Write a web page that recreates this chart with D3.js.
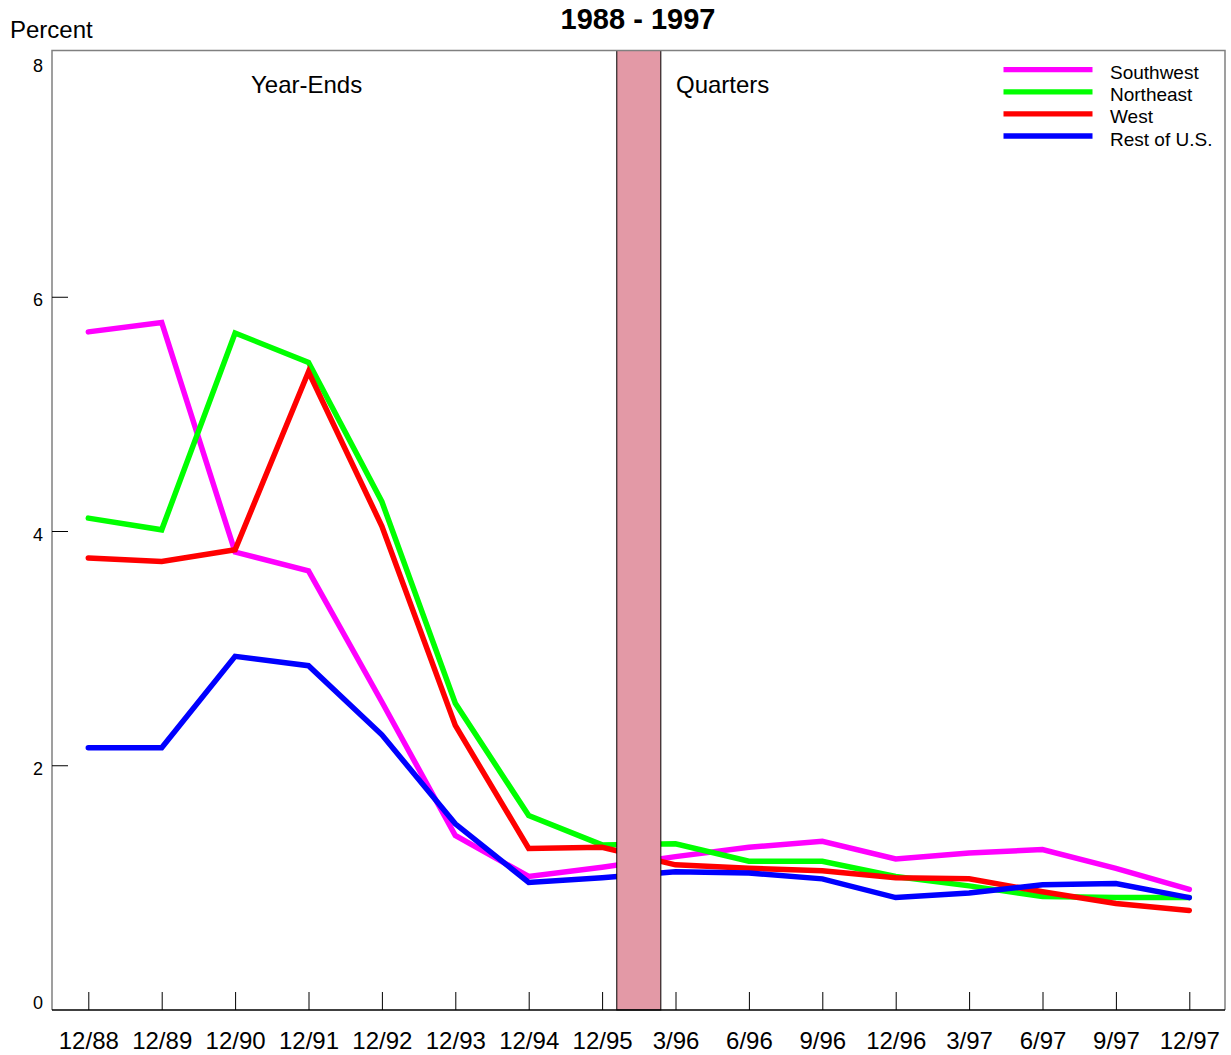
<!DOCTYPE html>
<html>
<head>
<meta charset="utf-8">
<script src="https://cdn.jsdelivr.net/npm/d3@7"></script>
<style>
  body { margin: 0; background: #fff; }
  svg { display: block; font-family: "Liberation Sans", Arial, sans-serif; }
</style>
</head>
<body>
<svg id="chart" width="1231" height="1055"></svg>
<script>
const categories = ["12/88","12/89","12/90","12/91","12/92","12/93","12/94","12/95","3/96","6/96","9/96","12/96","3/97","6/97","9/97","12/97"];
const southwest = [5.70,5.78,3.82,3.66,2.54,1.40,1.05,1.13,1.22,1.30,1.35,1.20,1.25,1.28,1.12,0.94];
const northeast = [4.11,4.01,5.69,5.44,4.25,2.53,1.57,1.32,1.33,1.18,1.18,1.05,0.97,0.88,0.87,0.87];
const west      = [3.77,3.74,3.84,5.36,4.04,2.34,1.29,1.30,1.15,1.12,1.10,1.04,1.03,0.92,0.82,0.76];
const restUS    = [2.15,2.15,2.93,2.85,2.26,1.50,1.00,1.04,1.09,1.08,1.03,0.87,0.91,0.98,0.99,0.87];
const seriesNames = ["Southwest","Northeast","West","Rest of U.S."];
const seriesColors = ["#ff00ff","#00ff00","#ff0000","#0000ff"];
const yTicks = [0,2,4,6,8];
const yInnerTicks = [2,4,6];
const bandBetween = ["12/95","3/96"];

const series = [southwest, northeast, west, restUS];

const svg = d3.select("#chart");
const frame = {left: 52, top: 50.5, right: 1225, bottom: 1010};

const x = d3.scalePoint().domain(categories).range([88.3, 1189.3]);
const y = d3.scaleLinear().domain([0, 8]).range([999.5, 62.5]);

// Lines
const line = d3.line().x((d, i) => x(categories[i])).y(d => y(d));
series.forEach((vals, k) => {
  svg.append("path")
    .datum(vals)
    .attr("d", line)
    .attr("fill", "none")
    .attr("stroke", seriesColors[k])
    .attr("stroke-width", 5.5)
    .attr("stroke-linejoin", "miter")
    .attr("stroke-linecap", "round");
});

// Band separating year-ends and quarters
const step = x.step();
const bx0 = x(bandBetween[0]) + step * 0.2;
const bx1 = x(bandBetween[1]) - step * 0.2;
svg.append("rect")
  .attr("x", bx0).attr("y", frame.top)
  .attr("width", bx1 - bx0).attr("height", frame.bottom - frame.top)
  .attr("fill", "#e399a6")
  .attr("stroke", "#000").attr("stroke-width", 1);

// Frame
svg.append("path")
  .attr("d", `M${frame.left},${frame.bottom}V${frame.top}H${frame.right}V${frame.bottom}`)
  .attr("fill", "none").attr("stroke", "#808080").attr("stroke-width", 1.5);
svg.append("line")
  .attr("x1", frame.left).attr("x2", frame.right)
  .attr("y1", frame.bottom).attr("y2", frame.bottom)
  .attr("stroke", "#000").attr("stroke-width", 1.5);

// X axis
const xAxis = svg.append("g")
  .attr("transform", `translate(0,${frame.bottom})`)
  .call(d3.axisBottom(x).tickSize(-18).tickPadding(22));
xAxis.select(".domain").remove();
xAxis.selectAll(".tick line").attr("stroke", "#000").attr("stroke-width", 1);
xAxis.selectAll(".tick text")
  .attr("font-size", 24).attr("fill", "#000")
  .attr("font-family", "'Liberation Sans', Arial, sans-serif");

// Y axis labels
const yAxis = svg.append("g")
  .attr("transform", `translate(${frame.left},0)`)
  .call(d3.axisLeft(y).tickValues(yTicks).tickSize(0).tickPadding(9).tickFormat(d3.format("d")));
yAxis.select(".domain").remove();
yAxis.selectAll(".tick text")
  .attr("font-size", 18).attr("fill", "#000").attr("dy", "0.5em")
  .attr("font-family", "'Liberation Sans', Arial, sans-serif");

// Y inner ticks
const yTickG = svg.append("g")
  .attr("transform", `translate(${frame.left},0)`)
  .call(d3.axisRight(y).tickValues(yInnerTicks).tickSize(16).tickFormat(""));
yTickG.select(".domain").remove();
yTickG.selectAll(".tick line").attr("stroke", "#000").attr("stroke-width", 1);

// Texts
svg.append("text").attr("x", 10).attr("y", 38).attr("font-size", 24).text("Percent");
svg.append("text").attr("x", 638).attr("y", 29).attr("text-anchor", "middle")
  .attr("font-size", 29).attr("font-weight", "bold").text("1988 - 1997");
svg.append("text").attr("x", 251).attr("y", 93).attr("font-size", 24).text("Year-Ends");
svg.append("text").attr("x", 676).attr("y", 93).attr("font-size", 24).text("Quarters");

// Legend
const legend = svg.append("g");
seriesNames.forEach((name, k) => {
  const ly = 69.7 + k * 22.1;
  legend.append("line")
    .attr("x1", 1003.5).attr("x2", 1092.5).attr("y1", ly).attr("y2", ly)
    .attr("stroke", seriesColors[k]).attr("stroke-width", 5.3);
  legend.append("text")
    .attr("x", 1110).attr("y", ly + 9.5)
    .attr("font-size", 19).attr("fill", "#000").text(name);
});
</script>
</body>
</html>
